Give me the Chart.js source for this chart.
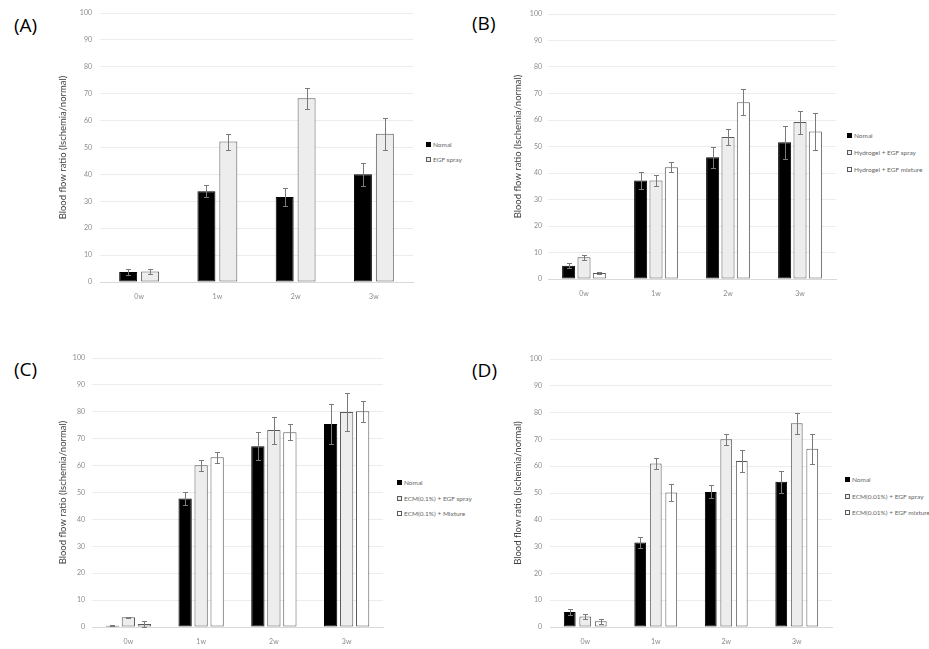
<!DOCTYPE html>
<html>
<head>
<meta charset="utf-8">
<script src="https://cdn.jsdelivr.net/npm/chart.js@4.4.1/dist/chart.umd.min.js"></script>
<style>
  html,body{margin:0;padding:0;background:#fff;}
  body{width:929px;height:649px;position:relative;overflow:hidden;font-family:Lato,"Open Sans",sans-serif;}
  canvas{position:absolute;}
  .plabel{position:absolute;font-family:"Open Sans",sans-serif;font-size:19px;color:#000;line-height:22px;}
  .legend{position:absolute;font-family:Lato,"Open Sans",sans-serif;font-size:6.5px;color:#666;}
  .legend .it{position:absolute;white-space:nowrap;height:8px;line-height:8px;}
  .legend .bx{display:inline-block;width:5px;height:5px;border:1px solid #595959;box-sizing:border-box;vertical-align:middle;margin-right:2px;position:relative;top:-1px;}
</style>
</head>
<body>
<script>
// ---------- DATA ----------
const categories = ['0w', '1w', '2w', '3w'];

const A_labels = ['Nomal', 'EGF spray'];
const A_normal = [3.7, 33.7, 31.6, 40.1];
const A_normalErr = [1.2, 2.2, 3.3, 4.3];
const A_spray = [3.9, 52.2, 68.3, 55.1];
const A_sprayErr = [1.0, 3.0, 4.0, 6.0];

const B_labels = ['Nomal', 'Hydrogel + EGF spray', 'Hydrogel + EGF mixture'];
const B_normal = [5.0, 37.2, 45.9, 51.6];
const B_normalErr = [1.0, 3.1, 3.9, 6.2];
const B_spray = [8.2, 37.2, 53.6, 59.2];
const B_sprayErr = [1.0, 2.0, 3.1, 4.3];
const B_mixture = [2.3, 42.2, 66.7, 55.7];
const B_mixtureErr = [0.3, 2.0, 5.0, 7.0];

const C_labels = ['Nomal', 'ECM(0.1%) + EGF spray', 'ECM(0.1%) + Mixture'];
const C_normal = [0.5, 47.8, 67.2, 75.5];
const C_normalErr = [0.2, 2.4, 5.3, 7.4];
const C_spray = [3.6, 60.1, 73.2, 79.9];
const C_sprayErr = [0.3, 2.1, 5.0, 7.0];
const C_mixture = [1.1, 63.1, 72.4, 80.2];
const C_mixtureErr = [1.0, 2.0, 2.9, 4.0];

const D_labels = ['Nomal', 'ECM(0.01%) + EGF spray', 'ECM(0.01%) + EGF mixture'];
const D_normal = [5.6, 31.5, 50.4, 54.2];
const D_normalErr = [1.1, 2.1, 2.4, 4.1];
const D_spray = [3.9, 61.0, 70.1, 76.0];
const D_sprayErr = [1.0, 2.2, 2.1, 4.0];
const D_mixture = [2.1, 50.2, 61.9, 66.5];
const D_mixtureErr = [1.0, 3.3, 4.1, 5.7];

const yTitle = 'Blood flow ratio (Ischemia/normal)';
const yMin = 0, yMax = 100, yStep = 10;

// ---------- STYLE ----------
const FONT = 'Lato, "Open Sans", sans-serif';
const fills = ['#000000', '#ededed', '#ffffff'];
const borders = ['#000000', '#595959', '#595959'];

const errorBars = {
  id: 'errorBars',
  afterDatasetsDraw(chart) {
    const ctx = chart.ctx, ys = chart.scales.y;
    chart.data.datasets.forEach((ds, i) => {
      const meta = chart.getDatasetMeta(i);
      meta.data.forEach((bar, j) => {
        const v = ds.data[j], e = ds.errors[j];
        const yt = Math.round(ys.getPixelForValue(v + e)) + 0.5;
        const yb = Math.round(ys.getPixelForValue(v - e)) + 0.5;
        const x = Math.round(bar.x) + 0.5;
        const cap = 2.5;
        ctx.save();
        ctx.strokeStyle = '#7a7a7a';
        ctx.lineWidth = 1;
        ctx.beginPath();
        ctx.moveTo(x, yt); ctx.lineTo(x, yb);
        ctx.moveTo(x - cap, yt); ctx.lineTo(x + cap, yt);
        ctx.moveTo(x - cap, yb); ctx.lineTo(x + cap, yb);
        ctx.stroke();
        ctx.restore();
      });
    });
  }
};

function makePanel(p) {
  const cv = document.createElement('canvas');
  cv.width = p.w; cv.height = p.h;
  cv.style.left = p.left + 'px'; cv.style.top = p.top + 'px';
  cv.style.width = p.w + 'px'; cv.style.height = p.h + 'px';
  document.body.appendChild(cv);

  const datasets = p.series.map((s, i) => ({
    label: p.labels[i],
    data: s[0],
    errors: s[1],
    backgroundColor: fills[i],
    borderColor: borders[i],
    borderWidth: 1,
    borderSkipped: false,
    barPercentage: p.barPct,
    categoryPercentage: p.catPct
  }));

  new Chart(cv, {
    type: 'bar',
    data: { labels: categories, datasets },
    plugins: [errorBars],
    options: {
      responsive: false,
      animation: false,
      devicePixelRatio: 1,
      layout: { padding: { top: p.padTop, right: p.padRight, left: 0, bottom: 0 } },
      plugins: { legend: { display: false }, tooltip: { enabled: false } },
      scales: {
        x: {
          grid: { display: false },
          border: { display: true, color: '#d9d9d9' },
          ticks: { color: '#8c8c8c', font: { family: FONT, size: 7 }, padding: 3 },
          afterFit(s) { s.height = p.xAxisH; }
        },
        y: {
          min: yMin, max: yMax,
          grid: { color: c => c.tick && c.tick.value === 0 ? '#d9d9d9' : '#ececec', drawTicks: false },
          border: { display: false },
          ticks: { stepSize: yStep, color: '#8c8c8c', font: { family: FONT, size: 7 }, padding: p.tickPad },
          title: { display: true, text: yTitle, color: '#404040', font: { family: FONT, size: 9.5 }, padding: { top: 12.5, bottom: 0 } },
          afterFit(s) { s.width = p.yAxisW; }
        }
      }
    }
  });

  const lab = document.createElement('div');
  lab.className = 'plabel';
  lab.textContent = p.name;
  lab.style.left = p.nameX + 'px';
  lab.style.top = (p.nameY - 11) + 'px';
  document.body.appendChild(lab);

  const lg = document.createElement('div');
  lg.className = 'legend';
  lg.style.left = p.legX + 'px';
  lg.style.top = '0px';
  p.labels.forEach((t, i) => {
    const it = document.createElement('div');
    it.className = 'it';
    it.style.top = (p.legY[i] - 4) + 'px';
    const bx = document.createElement('span');
    bx.className = 'bx';
    bx.style.background = fills[i];
    bx.style.borderColor = borders[i];
    it.appendChild(bx);
    it.appendChild(document.createTextNode(t));
    lg.appendChild(it);
  });
  document.body.appendChild(lg);
}

makePanel({ name: '(A)', nameX: 14, nameY: 25, left: 45, top: 0, w: 375, h: 300,
  yAxisW: 55, padTop: 13, padRight: 7, xAxisH: 18, tickPad: 8,
  barPct: 0.82, catPct: 0.56, labels: A_labels,
  series: [[A_normal, A_normalErr], [A_spray, A_sprayErr]],
  legX: 426, legY: [145, 160] });

makePanel({ name: '(B)', nameX: 472, nameY: 23, left: 500, top: 0, w: 345, h: 297,
  yAxisW: 48, padTop: 14, padRight: 9, xAxisH: 18, tickPad: 6,
  barPct: 0.85, catPct: 0.64, labels: B_labels,
  series: [[B_normal, B_normalErr], [B_spray, B_sprayErr], [B_mixture, B_mixtureErr]],
  legX: 847, legY: [136, 153, 170] });

makePanel({ name: '(C)', nameX: 14, nameY: 369, left: 45, top: 340, w: 345, h: 305,
  yAxisW: 47, padTop: 18, padRight: 7, xAxisH: 18, tickPad: 7,
  barPct: 0.83, catPct: 0.66, labels: C_labels,
  series: [[C_normal, C_normalErr], [C_spray, C_sprayErr], [C_mixture, C_mixtureErr]],
  legX: 397, legY: [483, 499, 514] });

makePanel({ name: '(D)', nameX: 472, nameY: 370, left: 500, top: 340, w: 340, h: 305,
  yAxisW: 50, padTop: 19, padRight: 8, xAxisH: 18, tickPad: 8,
  barPct: 0.76, catPct: 0.66, labels: D_labels,
  series: [[D_normal, D_normalErr], [D_spray, D_sprayErr], [D_mixture, D_mixtureErr]],
  legX: 845, legY: [480, 497, 513] });
</script>
</body>
</html>
